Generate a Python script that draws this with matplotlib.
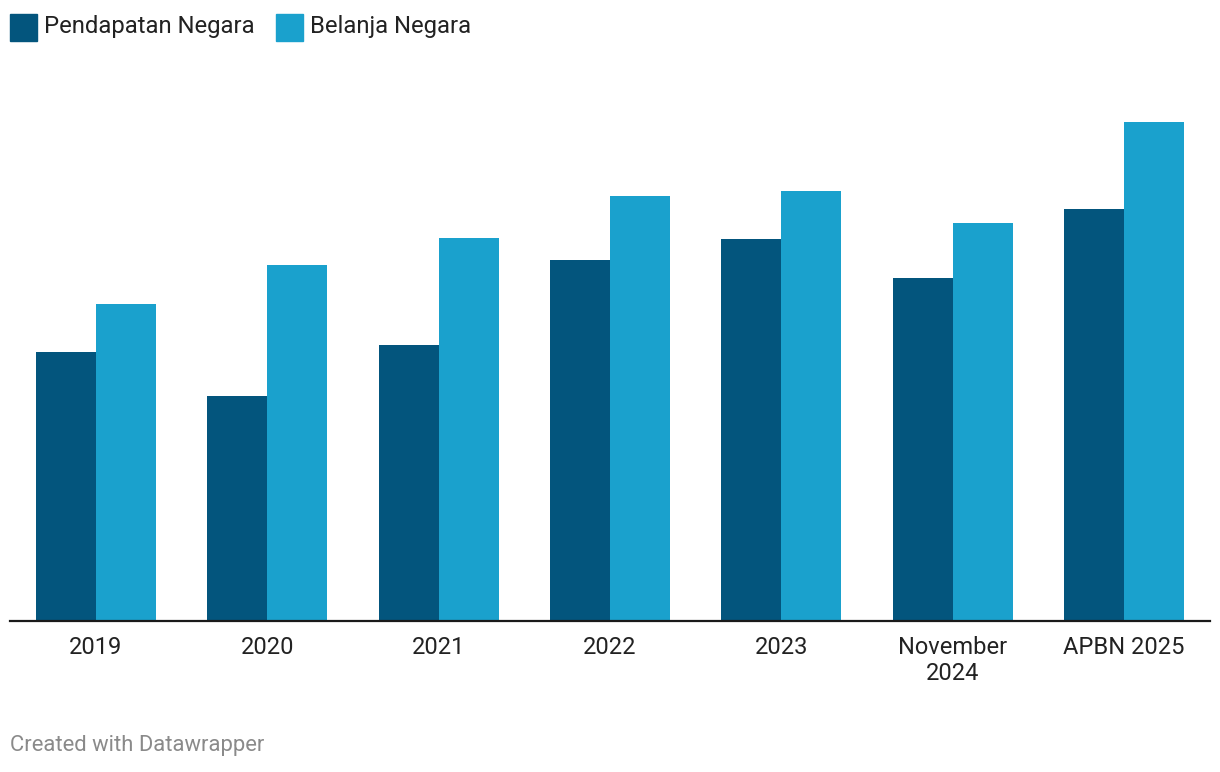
import matplotlib.pyplot as plt
from matplotlib.patches import Rectangle
import numpy as np

plt.rcParams['font.family'] = ['Roboto', 'DejaVu Sans']

categories = ["2019", "2020", "2021", "2022", "2023", "November\n2024", "APBN 2025"]
pendapatan = [1960.6, 1640.0, 2011.3, 2630.0, 2783.9, 2500.0, 3005.1]
belanja = [2309.3, 2595.5, 2790.0, 3098.0, 3134.0, 2901.0, 3637.0]
series_names = ["Pendapatan Negara", "Belanja Negara"]

dark = "#03557d"
light = "#1aa1cd"
W, H = 1220, 772

fig = plt.figure(figsize=(W / 100, H / 100), dpi=100)
ax = fig.add_axes([36 / W, (H - 621) / H, 1148 / W, 548.8 / H])

x = np.arange(len(categories))
bw = 0.35
ax.bar(x - bw / 2, pendapatan, bw, color=dark)
ax.bar(x + bw / 2, belanja, bw, color=light)

ax.set_xlim(-0.35, len(categories) - 1 + 0.35)
ax.set_ylim(0, 4000)
ax.set_xticks(x)
ax.set_xticklabels(categories, fontsize=17, color="#222222", linespacing=1.15, va="top")
ax.tick_params(axis="x", length=0, pad=11)
ax.set_yticks([])
for s in ax.spines.values():
    s.set_visible(False)

# baseline
fig.add_artist(plt.Line2D([10 / W, 1210 / W], [(H - 621) / H] * 2, color="#1a1a1a", lw=1.6))

# legend
for lx, col, name in [(10, dark, series_names[0]), (276, light, series_names[1])]:
    fig.add_artist(Rectangle((lx / W, (H - 41) / H), 27 / W, 27 / H, color=col, transform=fig.transFigure))
    fig.text((lx + 34) / W, (H - 27) / H, name, fontsize=17.2, color="#222222", va="center")

fig.text(10 / W, (H - 746) / H, "Created with Datawrapper", fontsize=15.8, color="#8a8a8a", va="center")

fig.savefig("out.png", dpi=100)
